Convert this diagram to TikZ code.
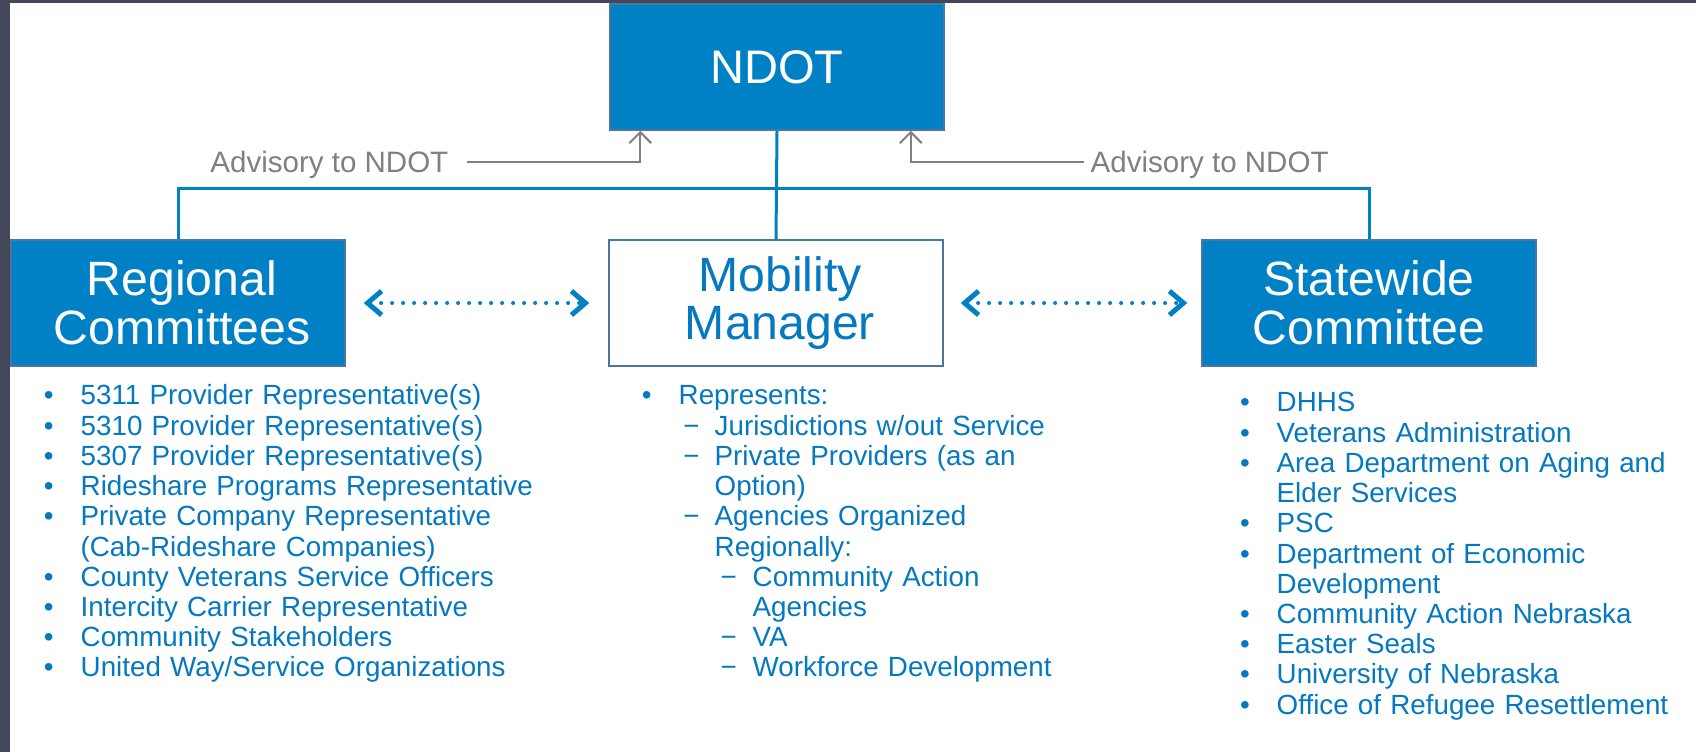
\documentclass[tikz,border=0pt]{standalone}
\usepackage{fontspec}
\setmainfont{Liberation Sans}
\usepackage{enumitem}
\usetikzlibrary{arrows.meta}
\definecolor{ndotblue}{HTML}{0081C6}
\definecolor{edgeblue}{HTML}{4A76A0}
\definecolor{listblue}{HTML}{0479C1}
\definecolor{advgray}{HTML}{808080}
\definecolor{slidedark}{HTML}{44465A}
\tikzset{>={Straight Barb[length=1.1mm,width=2.2mm]}}
\setlist[itemize,1]{nosep, leftmargin=3.2mm, labelsep=2.7mm, label=\textbullet}
\setlist[itemize,2]{nosep, leftmargin=3.6mm, labelsep=1.5mm, label=−}
\setlist[itemize,3]{nosep, leftmargin=3.8mm, labelsep=1.6mm, label=−}

\begin{document}
\begin{tikzpicture}[x=0.1mm, y=-0.1mm,
    orgbox/.style={draw=edgeblue, line width=0.15mm, fill=ndotblue, text=white,
      minimum width=33.4mm, minimum height=12.6mm, inner sep=0pt, align=center,
      font=\fontsize{13.7}{13.9}\selectfont},
    mgrbox/.style={orgbox, fill=white, text=listblue},
    link/.style={draw=ndotblue, line width=0.3mm},
    advise/.style={draw=advgray, line width=0.2mm, ->},
    advtext/.style={text=advgray, inner sep=0pt, font=\fontsize{8.4}{10}\selectfont},
    peer/.style={draw=ndotblue, line width=0.4mm, line cap=round, dash pattern=on 0pt off 1.1mm,
      {Straight Barb[length=1.4mm,width=2.4mm,line width=0.5mm]}-{Straight Barb[length=1.4mm,width=2.4mm,line width=0.5mm]}},
    members/.style={text=listblue, anchor=north west, inner sep=0pt, align=left,
      font=\fontsize{7.9}{8.6}\selectfont}]
  \useasboundingbox (0,0) rectangle (1696,752);
  \fill[white] (0,0) rectangle (1696,752);
  % slide frame
  \fill[slidedark] (0,0) rectangle (10,752);
  \fill[slidedark] (0,0) rectangle (1696,3);

  % boxes
  \node[orgbox, font=\fontsize{13.4}{14}\selectfont] (ndot) at (777,67) {NDOT};
  \node[orgbox] (regional) at (178,303) {\hspace*{0.8mm}Regional\\\hspace*{0.8mm}Committees};
  \node[mgrbox] (mobility) at (776,303) {\hspace*{0.8mm}Mobility\\\hspace*{0.8mm}Manager};
  \node[orgbox] (statewide) at (1369,303) {Statewide\\Committee};

  % reporting lines
  \coordinate (bus) at (777,188);
  \draw[link] (regional.north) |- (bus) -| (statewide.north);
  \draw[link] (ndot.south) -- (mobility.north);

  % advisory arrows
  \coordinate (inL) at ([xshift=3.1mm]ndot.south west);
  \coordinate (inR) at ([xshift=-3.4mm]ndot.south east);
  \node[advtext, anchor=east] (advL) at (449,165) {Advisory to NDOT};
  \node[advtext, anchor=west] (advR) at (1090,165) {Advisory to NDOT};
  \draw[advise] ([xshift=1.8mm, yshift=0.3mm]advL.east) -| (inL);
  \draw[advise] ([xshift=-0.6mm, yshift=0.3mm]advR.west) -| (inR);

  % peer links
  \draw[peer, shorten <=1.8mm, shorten >=1.9mm] (regional) -- (mobility);
  \draw[peer, shorten <=1.7mm, shorten >=1.4mm] (mobility) -- (statewide);

  % member lists
  \node[members, text width=52mm] (reglist) at (48,374) {%
    \begin{itemize}
      \item 5311 Provider Representative(s)
      \item 5310 Provider Representative(s)
      \item 5307 Provider Representative(s)
      \item Rideshare Programs Representative
      \item Private Company Representative\\(Cab-Rideshare Companies)
      \item County Veterans Service Officers
      \item Intercity Carrier Representative
      \item Community Stakeholders
      \item United Way/Service Organizations
    \end{itemize}};
  \node[members, text width=44mm] (mgrlist) at (646,374) {%
    \begin{itemize}
      \item Represents:
      \begin{itemize}
        \item Jurisdictions w/out Service
        \item Private Providers (as an\\Option)
        \item Agencies Organized\\Regionally:
        \begin{itemize}
          \item Community Action\\Agencies
          \item VA
          \item Workforce Development
        \end{itemize}
      \end{itemize}
    \end{itemize}};
  \node[members, text width=44mm] (statelist) at (1244,381) {%
    \begin{itemize}
      \item DHHS
      \item Veterans Administration
      \item Area Department on Aging and\\Elder Services
      \item PSC
      \item Department of Economic\\Development
      \item Community Action Nebraska
      \item Easter Seals
      \item University of Nebraska
      \item Office of Refugee Resettlement
    \end{itemize}};
\end{tikzpicture}
\end{document}
